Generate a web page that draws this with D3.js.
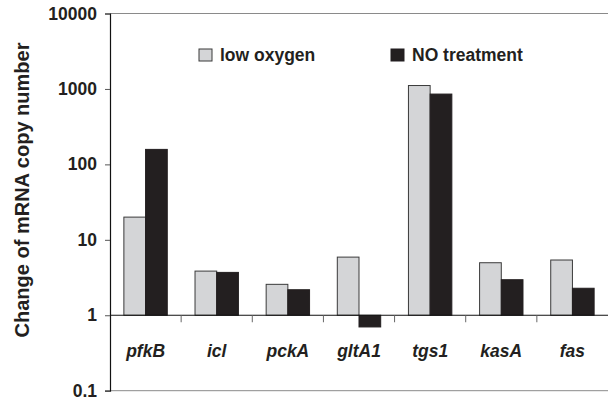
<!DOCTYPE html>
<html>
<head>
<meta charset="utf-8">
<script src="https://cdn.jsdelivr.net/npm/d3@7"></script>
<style>
  body { margin: 0; background: #fff; }
  svg { display: block; font-family: "Liberation Sans", Arial, sans-serif; }
</style>
</head>
<body>
<div id="chart"></div>
<script>
// data
const genes = ["pfkB", "icl", "pckA", "gltA1", "tgs1", "kasA", "fas"];
const series = ["low oxygen", "NO treatment"];
const lowOxygen = [20, 3.85, 2.57, 5.9, 1110, 4.97, 5.4];
const noTreatment = [158, 3.7, 2.18, 0.7, 855, 2.96, 2.28];
const yTicks = [0.1, 1, 10, 100, 1000, 10000];

const width = 609, height = 403;
const plotLeft = 110, plotRight = 608, plotTop = 13.5, plotBottom = 390.7;

const colors = { "low oxygen": "#d4d5d7", "NO treatment": "#231f20" };

const svg = d3.select("#chart").append("svg")
    .attr("width", width)
    .attr("height", height);

const y = d3.scaleLog()
    .domain([0.1, 10000])
    .range([plotBottom, plotTop]);

const x0 = d3.scaleBand()
    .domain(genes)
    .range([plotLeft, plotRight])
    .padding(0);

const pairW = x0.bandwidth() * 0.61;
const x1 = d3.scaleBand()
    .domain(series)
    .range([0, pairW])
    .padding(0);

const rows = genes.map((g, i) => ({ gene: g, values: [
    { key: "low oxygen", value: lowOxygen[i] },
    { key: "NO treatment", value: noTreatment[i] }
]}));

// top and bottom frame lines (grey)
svg.append("line")
    .attr("x1", plotLeft).attr("x2", plotRight)
    .attr("y1", plotTop).attr("y2", plotTop)
    .attr("stroke", "#8a8a8a").attr("stroke-width", 1);
svg.append("line")
    .attr("x1", plotLeft).attr("x2", plotRight)
    .attr("y1", plotBottom).attr("y2", plotBottom)
    .attr("stroke", "#8a8a8a").attr("stroke-width", 1);

// bars, drawn from 1
const groups = svg.append("g")
    .selectAll("g")
    .data(rows)
    .enter().append("g")
    .attr("transform", d => `translate(${x0(d.gene) + (x0.bandwidth() - pairW) / 2},0)`);

groups.selectAll("rect")
    .data(d => d.values)
    .enter().append("rect")
    .attr("x", d => x1(d.key))
    .attr("width", x1.bandwidth())
    .attr("y", d => Math.min(y(d.value), y(1)))
    .attr("height", d => Math.abs(y(d.value) - y(1)))
    .attr("fill", d => colors[d.key])
    .attr("stroke", d => d.key === "low oxygen" ? "#3a3a3a" : colors[d.key])
    .attr("stroke-width", 1);

// category axis at y = 1
const catY = y(1);
svg.append("line")
    .attr("x1", plotLeft).attr("x2", plotRight)
    .attr("y1", catY).attr("y2", catY)
    .attr("stroke", "#111").attr("stroke-width", 1.2);

svg.append("g")
    .selectAll("line")
    .data(genes.slice(1))
    .enter().append("line")
    .attr("x1", d => x0(d)).attr("x2", d => x0(d))
    .attr("y1", catY).attr("y2", catY + 7)
    .attr("stroke", "#666").attr("stroke-width", 1);

svg.append("g")
    .selectAll("text")
    .data(genes)
    .enter().append("text")
    .attr("x", d => x0(d) + x0.bandwidth() / 2)
    .attr("y", 357)
    .attr("text-anchor", "middle")
    .attr("font-size", 17.5)
    .attr("font-weight", "bold")
    .attr("font-style", "italic")
    .attr("fill", "#231f20")
    .text(d => d);

// y axis
const yAxis = svg.append("g")
    .attr("transform", `translate(${plotLeft},0)`)
    .call(d3.axisLeft(y)
        .tickValues(yTicks)
        .tickSize(5)
        .tickPadding(8)
        .tickFormat(d => d3.format("")(d)));

yAxis.select(".domain").attr("stroke", "#111").attr("stroke-width", 1.2);
yAxis.selectAll(".tick line").attr("stroke", "#555");
yAxis.selectAll(".tick text")
    .attr("font-size", 17.5)
    .attr("font-weight", "bold")
    .attr("font-family", "'Liberation Sans', Arial, sans-serif")
    .attr("fill", "#231f20");

svg.append("text")
    .attr("transform", `translate(29,190) rotate(-90)`)
    .attr("text-anchor", "middle")
    .attr("font-size", 20)
    .attr("font-weight", "bold")
    .attr("fill", "#231f20")
    .text("Change of mRNA copy number");

// legend
const legendX = [199, 391];
const legend = svg.append("g")
    .selectAll("g")
    .data(series)
    .enter().append("g")
    .attr("transform", (d, i) => `translate(${legendX[i]},49)`);

legend.append("rect")
    .attr("width", 13).attr("height", 12)
    .attr("fill", d => colors[d])
    .attr("stroke", d => d === "low oxygen" ? "#3a3a3a" : colors[d]);

legend.append("text")
    .attr("x", 21)
    .attr("y", 12)
    .attr("font-size", 17.5)
    .attr("font-weight", "bold")
    .attr("fill", "#231f20")
    .text(d => d);
</script>
</body>
</html>
